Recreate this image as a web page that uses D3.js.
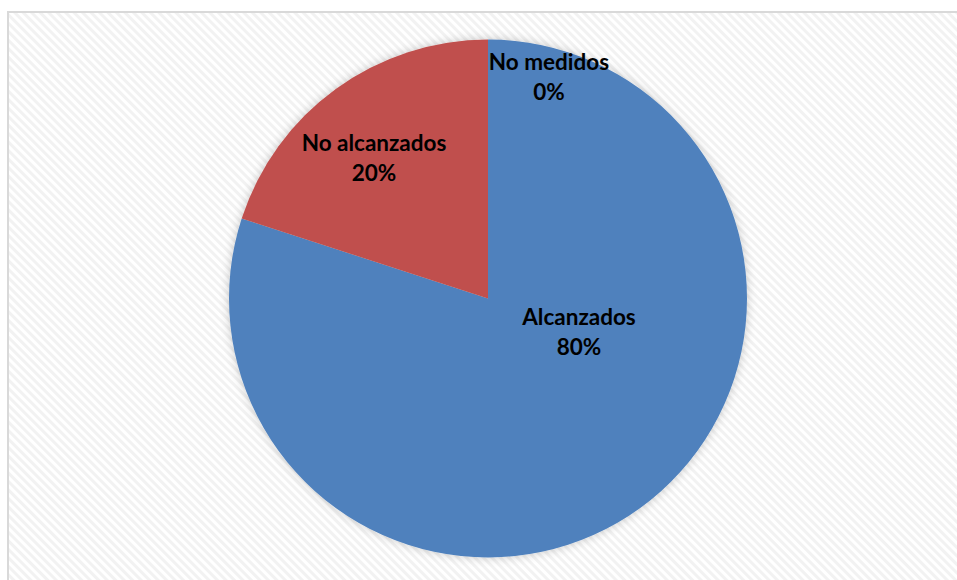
<!DOCTYPE html>
<html><head><meta charset="utf-8">
<script src="https://cdn.jsdelivr.net/npm/d3@7"></script>
<style>html,body{margin:0;padding:0;background:#fff;}svg{display:block;}</style>
</head><body>
<svg id="c" width="957" height="580"></svg>
<script>
const categories = ["Alcanzados", "No alcanzados", "No medidos"];
const values = [80, 20, 0];
const percentLabels = ["80%", "20%", "0%"];
const colors = ["#4F81BD", "#C0504D", "#9BBB59"];

const svg = d3.select("#c");
const defs = svg.append("defs");
const pat = defs.append("pattern").attr("id","hatch").attr("patternUnits","userSpaceOnUse")
  .attr("width",6).attr("height",6).attr("patternTransform","rotate(-45)");
pat.append("rect").attr("width",6).attr("height",6).attr("fill","#ffffff");
pat.append("rect").attr("width",3).attr("height",6).attr("fill","#f2f2f2");
const f = defs.append("filter").attr("id","glow").attr("x","-10%").attr("y","-10%").attr("width","120%").attr("height","120%");
f.append("feGaussianBlur").attr("in","SourceAlpha").attr("stdDeviation",5).attr("result","b");
f.append("feFlood").attr("flood-color","#000").attr("flood-opacity",0.22);
f.append("feComposite").attr("in2","b").attr("operator","in").attr("result","s");
const m = f.append("feMerge");
m.append("feMergeNode").attr("in","s");
m.append("feMergeNode").attr("in","SourceGraphic");

svg.append("rect").attr("x",8).attr("y",12).attr("width",960).attr("height",580)
  .attr("fill","url(#hatch)").attr("stroke","#d9d9d9").attr("stroke-width",2);

const cx = 488, cy = 298.5, r = 259;
const pie = d3.pie().sort(null).value(d => d)(values);
const arc = d3.arc().innerRadius(0).outerRadius(r);
const g = svg.append("g").attr("transform",`translate(${cx},${cy})`);
const slices = g.append("g").attr("filter","url(#glow)");
slices.selectAll("path").data(pie).join("path")
  .attr("d", arc).attr("fill",(d,i)=>colors[i]);

const labelPos = [[91,26],[-114,-148],[61,-229]];
const lab = g.append("g").attr("font-family","Lato, 'Open Sans', sans-serif")
  .attr("font-weight","bold").attr("font-size",22.5).attr("fill","#000").attr("text-anchor","middle");
pie.forEach((d,i)=>{
  const t = lab.append("text").attr("x",labelPos[i][0]).attr("y",labelPos[i][1]);
  t.append("tspan").attr("x",labelPos[i][0]).text(categories[i]);
  t.append("tspan").attr("x",labelPos[i][0]).attr("dy",30).text(percentLabels[i]);
});
</script>
</body></html>
